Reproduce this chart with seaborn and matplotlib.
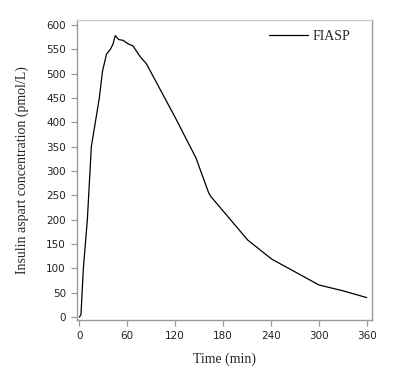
import numpy as np
import pandas as pd
import seaborn as sns
import matplotlib
matplotlib.use("Agg")
import matplotlib.pyplot as plt

# values
time_min = [0, 2, 5, 10, 13, 15, 20, 25, 29, 34, 39, 42, 45, 49, 55, 61, 67, 72, 76, 84,
            120, 146, 162, 165, 180, 211, 241, 270, 300, 330, 360]
conc = [0, 5, 100, 200, 290, 350, 400, 450, 505, 540, 550, 560, 578, 570, 568, 561, 557, 545, 535, 520,
        410, 327, 255, 247, 218, 158, 119, 93, 66, 54, 40]
x_ticks = [0, 60, 120, 180, 240, 300, 360]
y_ticks = list(range(0, 601, 50))

df = pd.DataFrame({"Time (min)": time_min, "conc": conc})

sns.set_style("white")
fig = plt.figure(figsize=(3.96, 3.72), dpi=100)
ax = fig.add_axes([0.1944, 0.1398, 0.7449, 0.8065])

sns.lineplot(data=df, x="Time (min)", y="conc", color="black", linewidth=0.9,
             label="FIASP", ax=ax)

ax.set_xlim(-3, 366.6)
ax.set_ylim(-6, 610)
ax.set_xticks(x_ticks)
ax.set_yticks(y_ticks)
ax.tick_params(axis="both", direction="out", length=4, width=0.9, color="#999999",
               labelsize=7.5, labelcolor="#222222", pad=4, bottom=True, left=True)
for s in ["left", "bottom", "right"]:
    ax.spines[s].set_color("#999999")
    ax.spines[s].set_linewidth(1.0)
ax.spines["top"].set_color("#cccccc")
ax.spines["top"].set_linewidth(1.0)

serif = {"family": "Liberation Serif", "size": 10}
ax.set_xlabel("Time (min)", fontdict=serif, labelpad=8)
ax.set_ylabel("Insulin aspart concentration (pmol/L)", fontdict=serif, labelpad=12)

leg = ax.legend(loc="upper left", frameon=False, handlelength=2.8, handletextpad=0.3,
                borderpad=0, borderaxespad=0,
                prop={"family": "Liberation Serif", "size": 10}, bbox_to_anchor=(0.652, 0.968))

fig.savefig("out.png", dpi=100)
